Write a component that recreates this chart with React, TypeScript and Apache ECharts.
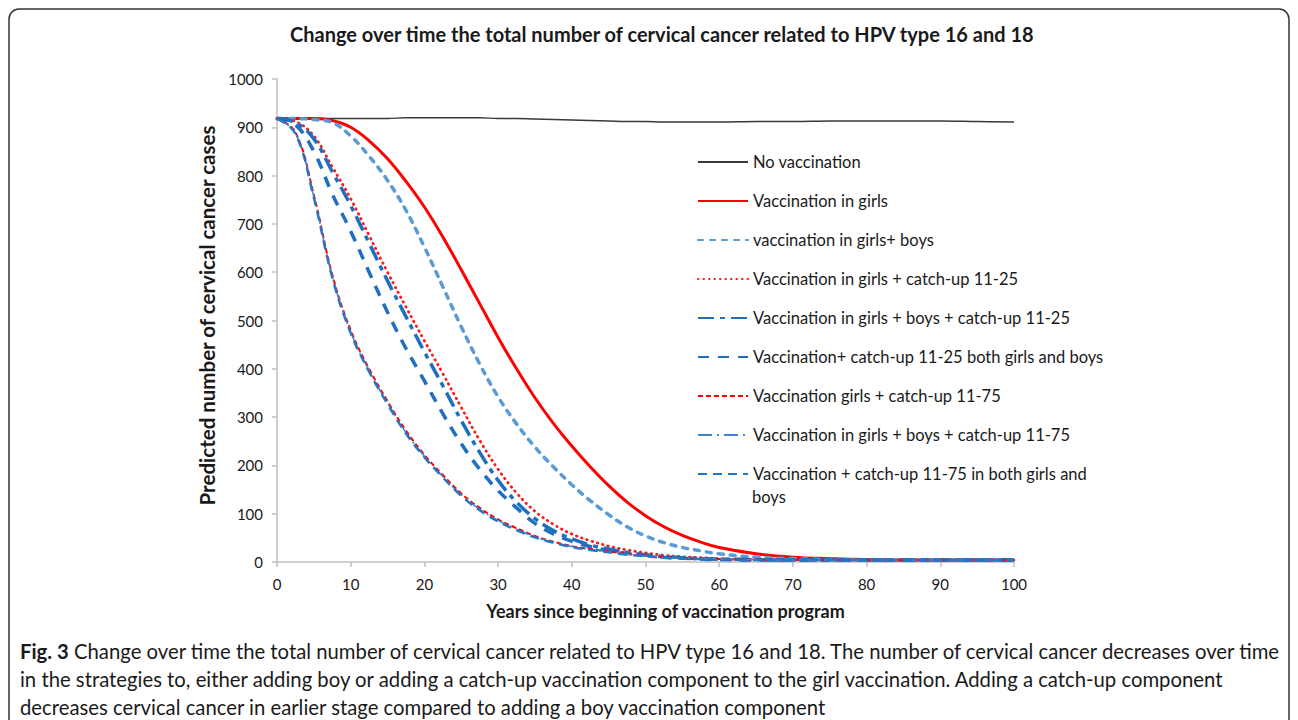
import React, { useEffect, useRef } from "react";
import * as echarts from "echarts";

const years = [0, 2.5, 5, 7.5, 10, 12.5, 15, 17.5, 20, 22.5, 25, 27.5, 30, 32.5, 35, 37.5, 40, 42.5, 45, 47.5, 50, 52.5, 55, 57.5, 60, 65, 70, 75, 80, 85, 90, 95, 100];

const noVacc = [918, 918, 918, 918, 918, 918, 918, 920, 920, 920, 920, 920, 918, 918, 917, 916, 915, 914, 913, 912, 912, 911, 911, 911, 911, 912, 912, 913, 913, 913, 913, 912, 911];
const girls = [918, 918, 918, 914, 900, 872, 835, 788, 735, 673, 605, 535, 465, 400, 340, 287, 240, 197, 158, 124, 96, 73, 55, 41, 30, 17, 10, 7, 5, 4, 4, 4, 4];
const girlsBoys = [918, 918, 916, 910, 882, 840, 790, 728, 652, 570, 487, 410, 342, 286, 238, 197, 160, 127, 98, 73, 54, 40, 30, 23, 17, 10, 7, 5, 4, 4, 4, 4, 4];
const girlsCU25 = [918, 912, 882, 818, 752, 676, 600, 528, 458, 390, 320, 252, 192, 143, 105, 78, 58, 44, 33, 25, 19, 14, 11, 9, 7, 5, 4, 4, 4, 4, 4, 4, 4];
const girlsBoysCU25 = [918, 910, 876, 808, 738, 660, 582, 508, 435, 365, 293, 227, 169, 124, 90, 65, 48, 35, 27, 20, 15, 11, 9, 7, 6, 5, 4, 4, 4, 4, 4, 4, 4];
const bothCU25 = [918, 905, 850, 762, 685, 600, 517, 442, 375, 307, 245, 192, 148, 112, 80, 58, 43, 32, 24, 18, 14, 10, 8, 6, 5, 4, 4, 4, 4, 4, 4, 4, 4];
const girlsCU75 = [918, 890, 760, 595, 480, 400, 333, 272, 222, 180, 142, 112, 88, 70, 54, 42, 33, 27, 22, 17, 13, 10, 8, 7, 6, 5, 4, 4, 4, 4, 4, 4, 4];
const girlsBoysCU75 = [918, 888, 756, 591, 476, 396, 329, 268, 219, 177, 139, 109, 86, 68, 52, 41, 32, 26, 21, 16, 12, 9, 8, 7, 6, 5, 4, 4, 4, 4, 4, 4, 4];
const bothCU75 = [918, 887, 754, 589, 474, 394, 327, 266, 217, 175, 137, 107, 84, 66, 51, 40, 31, 25, 20, 15, 12, 9, 7, 6, 5, 4, 4, 4, 4, 4, 4, 4, 4];

const seriesNames = [
  "No vaccination",
  "Vaccination in girls",
  "vaccination in girls+ boys",
  "Vaccination in girls + catch-up 11-25",
  "Vaccination in girls + boys + catch-up 11-25",
  "Vaccination+ catch-up 11-25 both girls and boys",
  "Vaccination girls + catch-up 11-75",
  "Vaccination in girls + boys + catch-up 11-75",
  "Vaccination + catch-up 11-75 in both girls and boys",
];
const seriesValues = [noVacc, girls, girlsBoys, girlsCU25, girlsBoysCU25, bothCU25, girlsCU75, girlsBoysCU75, bothCU75];

const xTicks = [0, 10, 20, 30, 40, 50, 60, 70, 80, 90, 100];
const yTicks = [0, 100, 200, 300, 400, 500, 600, 700, 800, 900, 1000];

const titleText = "Change over time the total number of cervical cancer related to HPV type 16 and 18";
const xTitle = "Years since beginning of vaccination program";
const yTitle = "Predicted number of cervical cancer cases";
const captionLines = [
  "{b|Fig. 3} Change over time the total number of cervical cancer related to HPV type 16 and 18. The number of cervical cancer decreases over time",
  "in the strategies to, either adding boy or adding a catch-up vaccination component to the girl vaccination. Adding a catch-up component",
  "decreases cervical cancer in earlier stage compared to adding a boy vaccination component",
];

const FONT = "Lato, 'Open Sans', sans-serif";

const styles: any[] = [
  { color: "#3a3a3a", width: 1.5, type: "solid" },
  { color: "#ff0000", width: 3, type: "solid" },
  { color: "#5b9bd5", width: 3.5, type: [5, 7], cap: "round" },
  { color: "#ff1a1a", width: 2.8, type: [0.5, 5], cap: "round" },
  { color: "#1f6fc0", width: 3.5, type: [16, 6, 5, 6] },
  { color: "#1f6fc0", width: 3.5, type: [11, 9] },
  { color: "#ff0000", width: 2, type: [5, 3] },
  { color: "#3a86d0", width: 1.5, type: [14, 5, 2, 5] },
  { color: "#2a74c4", width: 2.5, type: [9, 6] },
];

export default function App() {
  const ref = useRef<HTMLDivElement>(null);
  useEffect(() => {
    if (!ref.current) return;
    const chart = echarts.init(ref.current, null, { renderer: "svg" });
    const series = seriesNames.map((name, i) => ({
      name,
      type: "line",
      data: years.map((y, j) => [y, seriesValues[i][j]]),
      showSymbol: false,
      symbol: "none",
      smooth: 0.4,
      lineStyle: styles[i],
      z: 2 + i,
    }));
    chart.setOption({
      animation: false,
      backgroundColor: "#ffffff",
      textStyle: { fontFamily: FONT },
      title: {
        text: titleText,
        left: 290,
        top: 24,
        padding: 0,
        textStyle: { fontFamily: FONT, fontWeight: "bold", fontSize: 20, color: "#1a1a1a" },
      },
      grid: { left: 277, right: 284, top: 79, bottom: 158, containLabel: false },
      xAxis: {
        type: "value",
        min: xTicks[0],
        max: xTicks[xTicks.length - 1],
        interval: 10,
        name: xTitle,
        nameLocation: "middle",
        nameGap: 40,
        nameTextStyle: { fontFamily: FONT, fontWeight: "bold", fontSize: 18, color: "#1a1a1a", padding: [0, 0, 0, 40] },
        axisLine: { lineStyle: { color: "#bfbfbf", width: 1.5 } },
        axisTick: { show: true, length: 5, lineStyle: { color: "#bfbfbf", width: 1.5 } },
        axisLabel: { margin: 14, fontSize: 15, color: "#1a1a1a", fontFamily: FONT },
        splitLine: { show: false },
      },
      yAxis: {
        type: "value",
        min: yTicks[0],
        max: yTicks[yTicks.length - 1],
        interval: 100,
        name: yTitle,
        nameLocation: "middle",
        nameGap: 60,
        nameRotate: 90,
        nameTextStyle: { fontFamily: FONT, fontWeight: "bold", fontSize: 20.5, color: "#1a1a1a", padding: [0, 0, 0, 10] },
        axisLine: { show: true, lineStyle: { color: "#bfbfbf", width: 1.5 } },
        axisTick: { show: true, length: 5, lineStyle: { color: "#bfbfbf", width: 1.5 } },
        axisLabel: { margin: 14, fontSize: 15, color: "#1a1a1a", fontFamily: FONT, formatter: (v: number) => String(v) },
        splitLine: { show: false },
      },
      legend: {
        orient: "vertical",
        left: 697,
        top: 153,
        padding: 0,
        itemWidth: 50,
        itemHeight: 14,
        itemGap: 21,
        itemStyle: { opacity: 0 },
        data: seriesNames,
        formatter: (n: string) => (n === seriesNames[8] ? "Vaccination + catch-up 11-75 in both girls and" : n),
        textStyle: { fontFamily: FONT, fontSize: 16.5, lineHeight: 18, color: "#1a1a1a" },
      },
      series,
      graphic: [
        {
          type: "rect",
          silent: true,
          z: -1,
          shape: { x: 9, y: 9, width: 1280, height: 760, r: 10 },
          style: { fill: "none", stroke: "#333333", lineWidth: 1.5 },
        },
        {
          type: "text",
          left: 752,
          top: 488,
          style: { text: "boys", font: `16.5px ${FONT}`, fill: "#1a1a1a" },
        },
        {
          type: "text",
          left: 20,
          top: 637,
          style: {
            text: captionLines.join("\n"),
            font: `20.3px ${FONT}`,
            lineHeight: 28,
            fill: "#1a1a1a",
            rich: {
              b: { fontWeight: "bold", fontSize: 20.3, fontFamily: FONT, fill: "#1a1a1a", lineHeight: 28 },
            },
          },
        },
      ],
    });
    return () => chart.dispose();
  }, []);
  return (
    <div
      ref={ref}
      style={{ position: "fixed", left: 0, top: 0, width: 1298, height: 720, background: "#fff" }}
    />
  );
}
